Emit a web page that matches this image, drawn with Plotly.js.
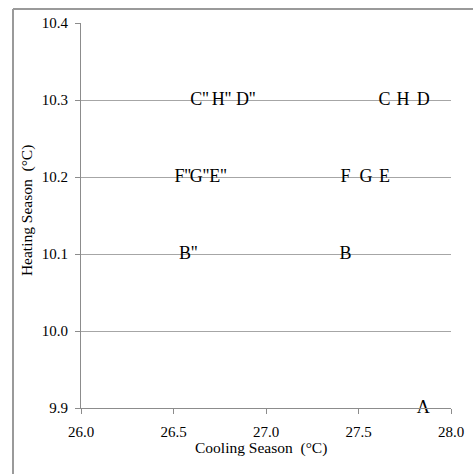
<!DOCTYPE html>
<html>
<head>
<meta charset="utf-8">
<script src="https://cdn.plot.ly/plotly-3.0.1.min.js"></script>
<style>
html,body{margin:0;padding:0;background:#fff;}
#chart{width:473px;height:474px;}
</style>
</head>
<body>
<div id="chart"></div>
<script>
// Data
const labels = ["A", "B", "C", "D", "E", "F", "G", "H", "B''", "C''", "D''", "E''", "F''", "G''", "H''"];
const coolingSeason = [27.85, 27.43, 27.64, 27.85, 27.64, 27.43, 27.54, 27.74, 26.58, 26.64, 26.89, 26.74, 26.55, 26.64, 26.76];
const heatingSeason = [9.9, 10.1, 10.3, 10.3, 10.2, 10.2, 10.2, 10.3, 10.1, 10.3, 10.3, 10.2, 10.2, 10.2, 10.3];
const xTicks = [26.0, 26.5, 27.0, 27.5, 28.0];
const yTicks = [9.9, 10.0, 10.1, 10.2, 10.3, 10.4];
const xTitle = "Cooling Season  (°C)";
const yTitle = "Heating Season  (°C)";

const serif = "'Liberation Serif', 'Times New Roman', serif";

const trace = {
  x: coolingSeason,
  y: heatingSeason,
  text: labels,
  mode: "text",
  type: "scatter",
  textposition: "middle center",
  textfont: {family: serif, size: 18, color: "#000"},
  cliponaxis: false,
  hoverinfo: "none"
};

const layout = {
  width: 473,
  height: 474,
  margin: {l: 81, r: 22, t: 23, b: 66},
  paper_bgcolor: "#fff",
  plot_bgcolor: "#fff",
  showlegend: false,
  font: {family: serif, size: 15, color: "#000"},
  xaxis: {
    range: [26.0, 28.0],
    tickvals: xTicks,
    ticktext: xTicks.map(v => v.toFixed(1)),
    showgrid: false,
    zeroline: false,
    showline: true,
    linecolor: "#8c8c8c",
    linewidth: 1,
    ticks: "outside",
    ticklen: 5,
    tickcolor: "#8c8c8c",
    tickfont: {family: serif, size: 15, color: "#000"},
    ticklabelstandoff: 5
  },
  yaxis: {
    range: [9.9, 10.4],
    tickvals: yTicks,
    ticktext: yTicks.map(v => v.toFixed(1)),
    showgrid: true,
    gridcolor: "#a6a6a6",
    gridwidth: 1,
    zeroline: false,
    showline: true,
    linecolor: "#8c8c8c",
    linewidth: 1,
    ticks: "outside",
    ticklen: 5,
    tickcolor: "#8c8c8c",
    tickfont: {family: serif, size: 15, color: "#000"},
    ticklabelstandoff: 4
  },
  annotations: [
    {text: xTitle, xref: "paper", yref: "paper", x: 0.486, y: -0.1035, xanchor: "center", yanchor: "middle",
     showarrow: false, font: {family: serif, size: 15.5, color: "#000"}},
    {text: yTitle, xref: "paper", yref: "paper", x: -0.146, y: 0.514, xanchor: "center", yanchor: "middle",
     textangle: -90, showarrow: false, font: {family: serif, size: 15.5, color: "#000"}}
  ],
  shapes: [
    {type: "line", xref: "paper", yref: "paper", x0: -68/370, x1: 1.2, y0: 1 + 14/385, y1: 1 + 14/385,
     line: {color: "#9a9a9a", width: 2}},
    {type: "line", xref: "paper", yref: "paper", x0: -68/370, x1: -68/370, y0: 1 + 14/385, y1: -0.3,
     line: {color: "#9a9a9a", width: 2}}
  ]
};

Plotly.newPlot("chart", [trace], layout, {displayModeBar: false, staticPlot: true});
</script>
</body>
</html>
